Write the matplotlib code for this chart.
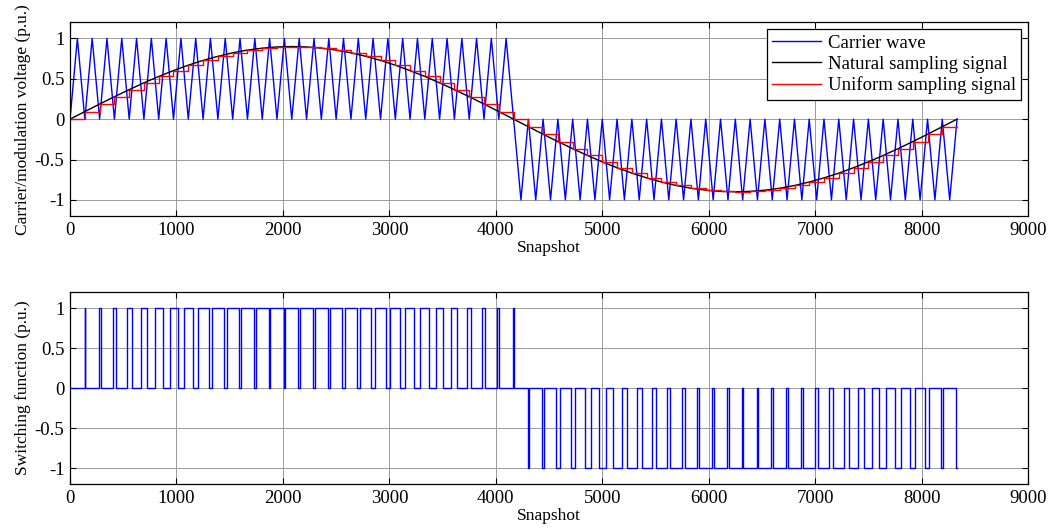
import matplotlib
matplotlib.use("Agg")
import matplotlib.pyplot as plt

plt.rcParams['font.family'] = ['Liberation Serif', 'DejaVu Serif']
plt.rcParams['mathtext.fontset'] = 'stix'

# carrier valleys (= uniform sampling instants) and carrier peaks, in snapshots
sample_times = [0, 139, 278, 417, 556, 694, 833, 972, 1111, 1250, 1389,
                1528, 1667, 1806, 1944, 2083, 2222, 2361, 2500, 2639, 2778,
                2917, 3056, 3194, 3333, 3472, 3611, 3750, 3889, 4028, 4167,
                4306, 4444, 4583, 4722, 4861, 5000, 5139, 5278, 5417, 5556,
                5694, 5833, 5972, 6111, 6250, 6389, 6528, 6667, 6806, 6944,
                7083, 7222, 7361, 7500, 7639, 7778, 7917, 8056, 8194, 8333]
peak_times = [69, 208, 347, 486, 625, 764, 903, 1042, 1181, 1319,
              1458, 1597, 1736, 1875, 2014, 2153, 2292, 2431, 2569, 2708,
              2847, 2986, 3125, 3264, 3403, 3542, 3681, 3819, 3958, 4097,
              4236, 4375, 4514, 4653, 4792, 4931, 5069, 5208, 5347, 5486,
              5625, 5764, 5903, 6042, 6181, 6319, 6458, 6597, 6736, 6875,
              7014, 7153, 7292, 7431, 7569, 7708, 7847, 7986, 8125, 8264]
peak_levels = [1] * 30 + [-1] * 30

# modulation signal read at the sampling instants
modulation = [0, 0.094, 0.187, 0.278, 0.366, 0.450, 0.529, 0.602, 0.669, 0.728,
              0.779, 0.822, 0.856, 0.880, 0.895, 0.900, 0.895, 0.880, 0.856, 0.822,
              0.779, 0.728, 0.669, 0.602, 0.529, 0.450, 0.366, 0.278, 0.187, 0.094,
              0, -0.094, -0.187, -0.278, -0.366, -0.450, -0.529, -0.602, -0.669, -0.728,
              -0.779, -0.822, -0.856, -0.880, -0.895, -0.900, -0.895, -0.880, -0.856, -0.822,
              -0.779, -0.728, -0.669, -0.602, -0.529, -0.450, -0.366, -0.278, -0.187, -0.094,
              0]

# switching pulses: start, end, level
pulse_on = [139, 271, 404, 536, 669, 802, 936, 1069, 1204, 1338,
            1474, 1610, 1746, 1883, 2021, 2160, 2299, 2439, 2580, 2721,
            2863, 3005, 3148, 3292, 3436, 3580, 3725, 3870, 4015, 4160,
            4306, 4438, 4570, 4703, 4836, 4969, 5102, 5236, 5370, 5505,
            5640, 5776, 5913, 6050, 6188, 6326, 6466, 6606, 6746, 6887,
            7029, 7172, 7315, 7458, 7602, 7747, 7891, 8036, 8181, 8327]
pulse_off = [145, 291, 436, 581, 726, 870, 1014, 1158, 1301, 1443,
             1585, 1726, 1867, 2007, 2146, 2284, 2422, 2559, 2696, 2832,
             2967, 3102, 3236, 3370, 3503, 3637, 3769, 3902, 4034, 4167,
             4312, 4457, 4603, 4748, 4892, 5037, 5181, 5324, 5467, 5610,
             5752, 5893, 6033, 6173, 6313, 6451, 6589, 6726, 6863, 6999,
             7134, 7269, 7403, 7537, 7670, 7803, 7936, 8069, 8201, 8333]
pulse_level = [1] * 30 + [-1] * 30

# carrier: valleys and peaks merged in time order
carrier_t = []
carrier_v = []
for i in range(len(peak_times)):
    carrier_t += [sample_times[i], peak_times[i]]
    carrier_v += [0, peak_levels[i]]
carrier_t.append(sample_times[-1])
carrier_v.append(0)

# uniform sampling: hold each sample for one carrier period
stair_t = sample_times
stair_v = modulation[:-1] + [modulation[-2]]

# switching function polyline
sw_t = [0]
sw_v = [0]
for on, off, lvl in zip(pulse_on, pulse_off, pulse_level):
    sw_t += [on, on, off, off]
    sw_v += [0, lvl, lvl, 0]
sw_t = sw_t[:-1]
sw_v = sw_v[:-1]

fig = plt.figure(figsize=(10.53, 5.29), dpi=100)
ax1 = fig.add_axes([0.0665, 0.5917, 0.9098, 0.3661])
ax2 = fig.add_axes([0.0665, 0.0851, 0.9098, 0.3623])

ax1.plot(carrier_t, carrier_v, color='#0000ff', lw=1.0, label='Carrier wave')
ax1.plot(sample_times, modulation, color='black', lw=1.0, label='Natural sampling signal')
ax1.step(stair_t, stair_v, where='post', color='#ff0000', lw=1.0, label='Uniform sampling signal')

ax2.plot(sw_t, sw_v, color='#0000ff', lw=1.0)

for ax, ylab in [(ax1, 'Carrier/modulation voltage (p.u.)'), (ax2, 'Switching function (p.u.)')]:
    ax.set_xlim(0, 9000)
    ax.set_ylim(-1.2, 1.2)
    ax.set_xticks(range(0, 9001, 1000))
    ax.set_yticks([-1, -0.5, 0, 0.5, 1])
    ax.set_yticklabels(['-1', '-0.5', '0', '0.5', '1'])
    ax.grid(True, color='#9a9a9a', lw=0.7)
    ax.set_axisbelow(True)
    ax.tick_params(direction='in', top=True, right=True, labelsize=13.5, length=4, width=0.8, pad=4)
    for s in ax.spines.values():
        s.set_linewidth(0.9)
    ax.set_xlabel('Snapshot', fontsize=12.5, labelpad=1)
    ax.set_ylabel(ylab, fontsize=12.5, labelpad=3)

leg = ax1.legend(loc='upper right', fontsize=13.5, fancybox=False, framealpha=1,
                 edgecolor='black', borderaxespad=0.35, handlelength=2.6,
                 handletextpad=0.35, labelspacing=0.2, borderpad=0.3)
leg.get_frame().set_linewidth(0.9)

fig.savefig('out.png', dpi=100)
